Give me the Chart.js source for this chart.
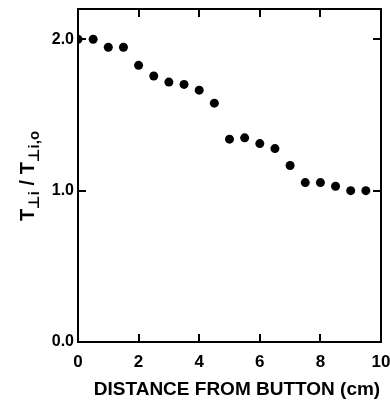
<!DOCTYPE html>
<html>
<head>
<meta charset="utf-8">
<script src="https://cdn.jsdelivr.net/npm/chart.js@4/dist/chart.umd.min.js"></script>
<style>
html,body{margin:0;padding:0;background:#fff;}
#wrap{width:390px;height:402px;}
</style>
</head>
<body>
<div id="wrap"><canvas id="c" width="390" height="402"></canvas></div>
<script>
const distances = [0, 0.5, 1, 1.5, 2, 2.5, 3, 3.5, 4, 4.5, 5, 5.5, 6, 6.5, 7, 7.5, 8, 8.5, 9, 9.5];
const ratios = [2.0, 2.0, 1.947, 1.947, 1.828, 1.757, 1.717, 1.702, 1.664, 1.578, 1.340, 1.349, 1.311, 1.278, 1.166, 1.053, 1.053, 1.029, 1.0, 1.0];
const xTickValues = [0, 2, 4, 6, 8, 10];
const yTickValues = [0, 1, 2];
const xTitle = 'DISTANCE FROM BUTTON (cm)';
const yTitleParts = [['T', false], ['\u22A5i', true], [' / ', false], ['T', false], ['\u22A5i,o', true]];

const FONT = '"Liberation Sans", "DejaVu Sans", Arial, sans-serif';

const framePlugin = {
  id: 'frame',
  afterDraw(chart) {
    const {ctx, chartArea: a, scales} = chart;
    ctx.save();
    ctx.strokeStyle = '#000';
    ctx.lineWidth = 2;
    ctx.strokeRect(a.left, a.top, a.right - a.left, a.bottom - a.top);
    const L = 8;
    ctx.beginPath();
    xTickValues.forEach(v => {
      const px = Math.round(scales.x.getPixelForValue(v));
      ctx.moveTo(px, a.bottom); ctx.lineTo(px, a.bottom - L);
      ctx.moveTo(px, a.top); ctx.lineTo(px, a.top + L);
    });
    yTickValues.forEach(v => {
      const py = Math.round(scales.y.getPixelForValue(v));
      ctx.moveTo(a.left, py); ctx.lineTo(a.left + L, py);
      ctx.moveTo(a.right, py); ctx.lineTo(a.right - L, py);
    });
    ctx.stroke();

    // x title
    ctx.fillStyle = '#000';
    ctx.font = 'bold 19px ' + FONT;
    ctx.textAlign = 'center';
    ctx.textBaseline = 'alphabetic';
    ctx.fillText(xTitle, 237, 395);

    // y title with subscripts, rotated
    ctx.translate(34, 176);
    ctx.rotate(-Math.PI / 2);
    const bigFont = 'bold 20px ' + FONT;
    const smallFont = 'bold 15px ' + FONT;
    let total = 0;
    yTitleParts.forEach(([t, sub]) => { ctx.font = sub ? smallFont : bigFont; total += ctx.measureText(t).width; });
    let x = -total / 2;
    ctx.textAlign = 'left';
    yTitleParts.forEach(([t, sub]) => {
      ctx.font = sub ? smallFont : bigFont;
      ctx.fillText(t, x, sub ? 5 : 0);
      x += ctx.measureText(t).width;
    });
    ctx.restore();
  }
};

new Chart(document.getElementById('c'), {
  type: 'scatter',
  data: {
    datasets: [{
      data: distances.map((d, i) => ({x: d, y: ratios[i]})),
      pointRadius: 4.5,
      pointHoverRadius: 4.5,
      backgroundColor: '#000',
      borderColor: '#000',
      borderWidth: 0
    }]
  },
  options: {
    responsive: false,
    animation: false,
    layout: {padding: {left: 0, right: 9, top: 9, bottom: 0}},
    plugins: {legend: {display: false}, tooltip: {enabled: false}},
    scales: {
      x: {
        type: 'linear', min: 0, max: 10,
        afterBuildTicks: s => { s.ticks = xTickValues.map(v => ({value: v})); },
        afterFit: s => { s.height = 60; s.paddingLeft = 0; s.paddingRight = 0; },
        grid: {display: false, drawTicks: false},
        border: {display: false},
        ticks: {
          autoSkip: false, maxRotation: 0, padding: 10, color: '#000',
          font: {family: FONT, size: 17, weight: 'bold'},
          callback: v => String(v)
        }
      },
      y: {
        type: 'linear', min: 0, max: 2.2,
        afterBuildTicks: s => { s.ticks = yTickValues.map(v => ({value: v})); },
        afterFit: s => { s.width = 78; s.paddingTop = 0; s.paddingBottom = 0; },
        grid: {display: false, drawTicks: false},
        border: {display: false},
        ticks: {
          padding: 4, color: '#000',
          font: {family: FONT, size: 16, weight: 'bold'},
          callback: v => Number(v).toFixed(1)
        }
      }
    }
  },
  plugins: [framePlugin]
});
</script>
</body>
</html>
